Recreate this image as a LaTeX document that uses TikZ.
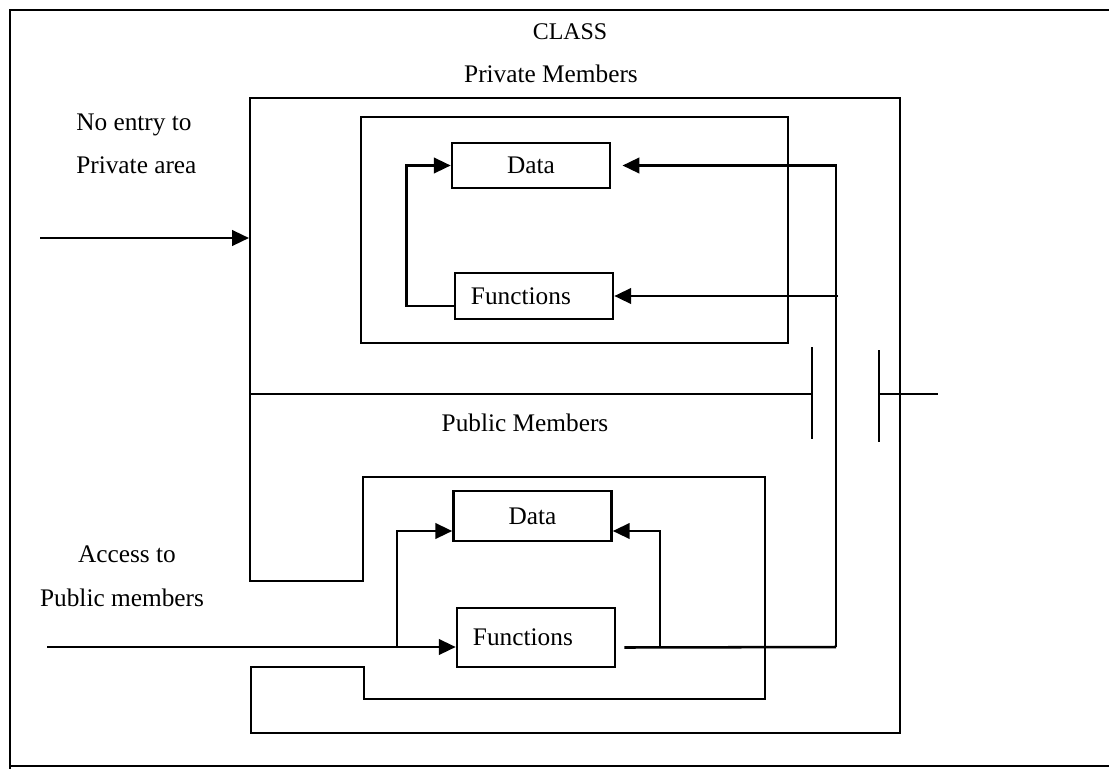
\documentclass[tikz,border=0pt]{standalone}
\usepackage{fontspec}
\setmainfont{Liberation Serif}
\usetikzlibrary{arrows.meta, calc}

\begin{document}
\begin{tikzpicture}[x=0.025cm, y=-0.025cm,
  wire/.style={line width=1.8pt},
  arr/.style={wire, -{Triangle[length=12pt,width=11pt]}},
  membox/.style={draw, line width=1.8pt, minimum width=3.95cm, inner sep=0pt,
    font=\fontsize{18}{22}\selectfont},
  funcbox/.style={membox, text width=3.15cm, inner xsep=0.4cm, align=left},
  lbl/.style={font=\fontsize{18}{22}\selectfont, inner sep=0pt, anchor=base}]
  \useasboundingbox (0,0) rectangle (1109,769);
  % page frame (open on the right)
  \draw[wire] (1109,10) -- (10,10) -- (10,769);
  \draw[line width=1.2pt] (10,766) -- (1109,766);
  % class outline, public area cut in from the left
  \draw[wire] (250,98) -- (900,98) -- (900,733) -- (251,733) -- (251,667)
    -- (364,667) -- (364,699) -- (765,699) -- (765,477) -- (363,477)
    -- (363,581) -- (250,581) -- cycle;
  % private area
  \draw[wire] (361,117) rectangle (788,343);
  % private/public divider and the gate
  \draw[wire] (250,394) -- (812,394);
  \draw[wire] (812,347) -- (812,439);
  \draw[wire] (879,350) -- (879,442);
  \draw[wire] (879,394) -- (938,394);
  % labels
  \node[lbl, font=\fontsize{17}{20}\selectfont] (cls) at (570,39) {CLASS};
  \node[lbl] (privLbl) at (551,82) {Private Members};
  \node[lbl, anchor=base west] (noEntryA) at (76,130) {No entry to};
  \node[lbl, anchor=base west] (noEntryB) at (76,173) {Private area};
  \node[lbl] (pubLbl) at (525,431) {Public Members};
  \node[lbl] (accessA) at (127,562) {Access to};
  \node[lbl] (accessB) at (122,606) {Public members};
  % member boxes
  \node[membox, minimum height=1.125cm] (privData) at (531,165.5) {Data};
  \node[funcbox, minimum height=1.15cm] (privFunc) at (534,296) {Functions};
  \node[membox, minimum height=1.25cm] (pubData) at (532.5,516) {Data};
  \node[funcbox, minimum height=1.475cm] (pubFunc) at (536,637.5) {Functions};
  % no entry to the private area
  \coordinate (noIn) at (40,238);
  \coordinate (classW) at (249,238);
  \draw[arr] (noIn) -- (classW);
  % private functions work on private data
  \draw[arr] ($(privFunc.west)+(0,10)$) -- ++(-47,0) |- (privData.west);
  % public functions reach the private members
  \coordinate (tap) at (660,647);
  \coordinate (bus) at (836,647);
  \coordinate (privTap) at (838,296);
  \draw[wire] ($(pubFunc.east)+(8,10)$) -- (bus);
  \draw[arr, shorten >=0.28cm] (bus) |- (privData.east);
  \draw[arr] (privTap) -- (privFunc.east);
  \draw[arr] (tap) |- ($(pubData.east)+(0,15)$);
  % access from outside to public members
  \coordinate (pubIn) at (47,647);
  \coordinate (fork) at (397,647);
  \draw[arr] (pubIn) -- (pubIn -| pubFunc.west);
  \draw[arr] (fork) |- ($(pubData.west)+(0,15)$);
\end{tikzpicture}
\end{document}
